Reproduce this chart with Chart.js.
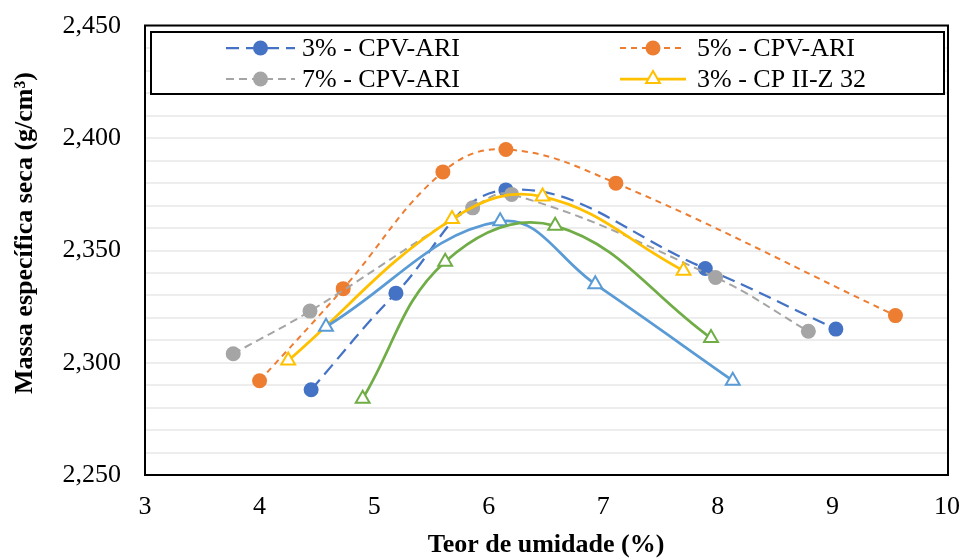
<!DOCTYPE html>
<html>
<head>
<meta charset="utf-8">
<script src="https://cdn.jsdelivr.net/npm/chart.js@4.4.1/dist/chart.umd.min.js"></script>
<style>
  html, body { margin: 0; padding: 0; background: #fff; }
  #wrap { width: 963px; height: 558px; }
</style>
</head>
<body>
<div id="wrap"><canvas id="c" width="963" height="558"></canvas></div>
<script>
const FONT = '"Liberation Serif", "Times New Roman", serif'

// moisture content (%) and dry density (g/cm3)
const cpv3X = [4.45, 5.19, 6.15, 7.89, 9.03]
const cpv3Y = [2.288, 2.331, 2.377, 2.342, 2.315]
const cpv5X = [4.00, 4.73, 5.60, 6.15, 7.11, 9.55]
const cpv5Y = [2.292, 2.333, 2.385, 2.395, 2.380, 2.321]
const cpv7X = [3.77, 4.44, 5.86, 6.20, 7.98, 8.79]
const cpv7Y = [2.304, 2.323, 2.369, 2.375, 2.338, 2.314]
const cpz3X = [4.25, 5.68, 6.47, 7.70]
const cpz3Y = [2.301, 2.364, 2.374, 2.341]
const cpz5X = [4.58, 6.10, 6.93, 8.13]
const cpz5Y = [2.316, 2.363, 2.335, 2.292]
const cpz7X = [4.90, 5.62, 6.58, 7.94]
const cpz7Y = [2.284, 2.345, 2.361, 2.311]

const xTitle = 'Teor de umidade (%)'
const yTitle = 'Massa específica seca (g/cm³)'
const xMin = 3, xMax = 10, xStep = 1
const yMin = 2.25, yMax = 2.45, yStep = 0.01, yLabelEvery = 5

function pts (xs, ys) {
  return xs.map((x, i) => ({ x, y: ys[i] }))
}

const series = [
  { label: '3% - CPV-ARI', xs: cpv3X, ys: cpv3Y, color: '#4472C4', dash: [13, 7], width: 2.25, marker: 'circle', legend: true },
  { label: '5% - CPV-ARI', xs: cpv5X, ys: cpv5Y, color: '#ED7D31', dash: [6, 5], width: 2, marker: 'circle', legend: true },
  { label: '7% - CPV-ARI', xs: cpv7X, ys: cpv7Y, color: '#A5A5A5', dash: [8, 5], width: 2, marker: 'circle', legend: true },
  { label: '3% - CP II-Z 32', xs: cpz3X, ys: cpz3Y, color: '#FFC000', dash: [], width: 2.75, marker: 'triangle', legend: true },
  { label: '5% - CP II-Z 32', xs: cpz5X, ys: cpz5Y, color: '#5B9BD5', dash: [], width: 2.75, marker: 'triangle', legend: false },
  { label: '7% - CP II-Z 32', xs: cpz7X, ys: cpz7Y, color: '#70AD47', dash: [], width: 2.75, marker: 'triangle', legend: false },
]

const datasets = series.map((s, i) => ({
  label: s.label,
  data: pts(s.xs, s.ys),
  showLine: true,
  tension: 0.4,
  borderColor: s.color,
  backgroundColor: s.color,
  borderWidth: s.width,
  borderDash: s.dash,
  pointStyle: s.marker,
  pointRadius: s.marker === 'circle' ? 7.5 : 8,
  pointBackgroundColor: s.marker === 'circle' ? s.color : '#fff',
  pointBorderColor: s.color,
  pointBorderWidth: s.marker === 'circle' ? 0 : 2,
  order: series.length - i,
}))

function drawMarker (ctx, s, x, y) {
  ctx.save()
  ctx.setLineDash([])
  if (s.marker === 'circle') {
    ctx.fillStyle = s.color
    ctx.beginPath()
    ctx.arc(x, y, 7.5, 0, Math.PI * 2)
    ctx.fill()
  } else {
    const r = 8
    ctx.fillStyle = '#fff'
    ctx.strokeStyle = s.color
    ctx.lineWidth = 2
    ctx.beginPath()
    ctx.moveTo(x, y - r)
    ctx.lineTo(x + r * Math.sin(2 * Math.PI / 3), y + r / 2)
    ctx.lineTo(x - r * Math.sin(2 * Math.PI / 3), y + r / 2)
    ctx.closePath()
    ctx.fill()
    ctx.stroke()
  }
  ctx.restore()
}

const framePlugin = {
  id: 'frame',
  afterDatasetsDraw (chart) {
    const { ctx, chartArea: a } = chart
    ctx.save()
    ctx.strokeStyle = '#000'
    ctx.lineWidth = 2
    ctx.strokeRect(a.left, a.top - 0.5, a.right - a.left + 1, a.bottom - a.top + 0.5)
    ctx.restore()
  },
}

const legendPlugin = {
  id: 'boxLegend',
  afterDraw (chart) {
    const ctx = chart.ctx
    const box = { x: 151, y: 32, w: 793, h: 62 }
    ctx.save()
    ctx.fillStyle = '#fff'
    ctx.fillRect(box.x, box.y, box.w, box.h)
    ctx.strokeStyle = '#000'
    ctx.lineWidth = 2
    ctx.strokeRect(box.x, box.y, box.w, box.h)

    const cols = [{ x0: 226, x1: 295, tx: 302 }, { x0: 620, x1: 686, tx: 697 }]
    const rows = [48, 79]
    const shown = series.filter(s => s.legend)
    ctx.font = '26px ' + FONT
    ctx.textBaseline = 'middle'
    ctx.textAlign = 'left'
    shown.forEach((s, i) => {
      const c = cols[i % 2]
      const y = rows[Math.floor(i / 2)]
      ctx.save()
      ctx.strokeStyle = s.color
      ctx.lineWidth = s.width
      ctx.setLineDash(s.dash)
      ctx.beginPath()
      ctx.moveTo(c.x0, y)
      ctx.lineTo(c.x1, y)
      ctx.stroke()
      ctx.restore()
      drawMarker(ctx, s, (c.x0 + c.x1) / 2, y)
      ctx.fillStyle = '#000'
      ctx.fillText(s.label, c.tx, y + 1)
    })
    ctx.restore()
  },
}

const yTitlePlugin = {
  id: 'yTitle',
  afterDraw (chart) {
    const ctx = chart.ctx
    ctx.save()
    ctx.translate(25, 233)
    ctx.rotate(-Math.PI / 2)
    ctx.font = 'bold 26px ' + FONT
    ctx.fillStyle = '#000'
    ctx.textAlign = 'center'
    ctx.textBaseline = 'middle'
    ctx.fillText(yTitle, 0, 0)
    ctx.restore()
  },
}

function isLabelTick (v) {
  const k = Math.round((v - yMin) / yStep)
  return Math.abs((v - yMin) / yStep - k) < 1e-6 && k % yLabelEvery === 0
}

new Chart(document.getElementById('c'), {
  type: 'scatter',
  data: { datasets },
  plugins: [framePlugin, legendPlugin, yTitlePlugin],
  options: {
    responsive: false,
    devicePixelRatio: 1,
    animation: false,
    layout: { padding: { top: 26, right: 16, left: 0, bottom: 0 } },
    plugins: {
      legend: { display: false },
      tooltip: { enabled: false },
    },
    scales: {
      x: {
        type: 'linear',
        min: xMin,
        max: xMax,
        afterFit (scale) {
          scale.height = 83
          scale.paddingLeft = 0
          scale.paddingRight = 0
        },
        grid: { display: false, drawTicks: false },
        border: { display: false },
        ticks: {
          stepSize: xStep,
          padding: 17,
          color: '#000',
          font: { family: FONT, size: 26 },
          maxRotation: 0,
        },
        title: {
          display: true,
          text: xTitle,
          color: '#000',
          font: { family: FONT, size: 26, weight: 'bold', lineHeight: 1 },
          padding: { top: 0, bottom: 0 },
        },
      },
      y: {
        type: 'linear',
        min: yMin,
        max: yMax,
        afterFit (scale) {
          scale.width = 145
          scale.paddingTop = 0
          scale.paddingBottom = 0
        },
        grid: { color: '#EDEDED', lineWidth: 2, drawTicks: false },
        border: { display: false },
        ticks: {
          stepSize: yStep,
          autoSkip: false,
          padding: 24,
          color: '#000',
          font: { family: FONT, size: 26 },
          callback: v => isLabelTick(v) ? v.toFixed(3).replace('.', ',') : '',
        },
      },
    },
  },
})
</script>
</body>
</html>
